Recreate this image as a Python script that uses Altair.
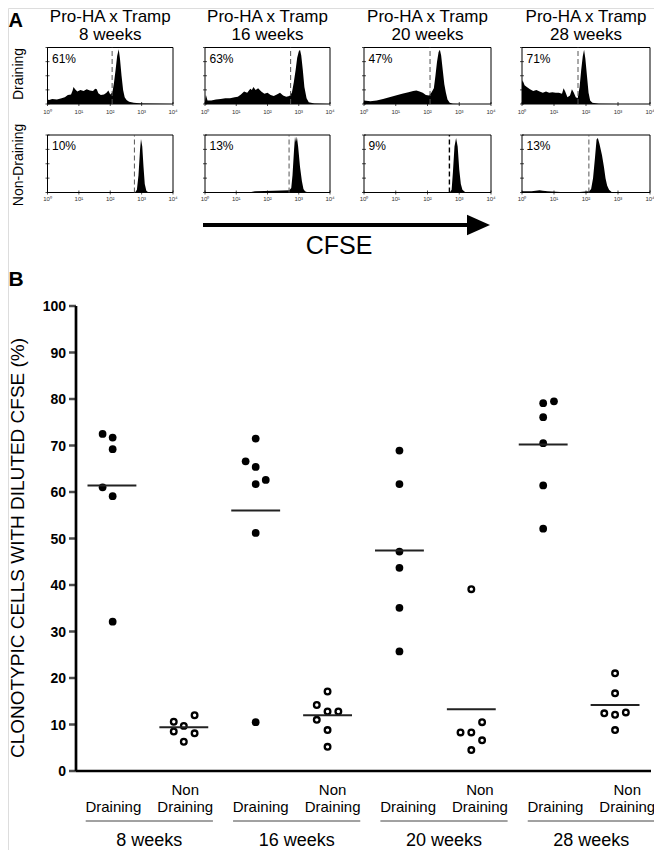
import altair as alt
import pandas as pd

FONT = "Liberation Sans"

# ---------------- data: panel A (CFSE histograms, x in log10 decades) ----------------
weeks = ["8 weeks", "16 weeks", "20 weeks", "28 weeks"]
row_names = ["Draining", "Non-Draining"]
header_line1 = "Pro-HA x Tramp"
decade_labels = ["10⁰", "10¹", "10²", "10³", "10⁴"]
decades = [0, 1, 2, 3, 4]

d8_x = [0.0, 0.05, 0.15, 0.3, 0.45, 0.55, 0.65, 0.75, 0.8, 0.83, 0.88, 0.95, 1.05, 1.15, 1.25, 1.35, 1.45, 1.52, 1.57, 1.62, 1.7, 1.8, 1.88, 1.94, 2.0, 2.07, 2.12, 2.17, 2.22, 2.27, 2.31, 2.36, 2.41, 2.46, 2.52, 2.6, 2.75, 3.0, 3.5, 4.0]
d8_y = [0.08, 0.07, 0.09, 0.08, 0.1, 0.12, 0.16, 0.17, 0.24, 0.3, 0.26, 0.22, 0.25, 0.23, 0.26, 0.24, 0.23, 0.27, 0.26, 0.19, 0.16, 0.17, 0.2, 0.24, 0.17, 0.21, 0.38, 0.6, 0.85, 0.97, 0.8, 0.5, 0.25, 0.12, 0.07, 0.04, 0.02, 0.01, 0.005, 0.0]
d16_x = [0.0, 0.03, 0.08, 0.2, 0.35, 0.5, 0.65, 0.8, 0.95, 1.05, 1.15, 1.25, 1.35, 1.45, 1.5, 1.55, 1.62, 1.7, 1.8, 1.9, 2.0, 2.1, 2.2, 2.3, 2.4, 2.5, 2.6, 2.7, 2.78, 2.84, 2.9, 2.95, 3.0, 3.04, 3.08, 3.13, 3.18, 3.25, 3.32, 3.5, 4.0]
d16_y = [0.05, 0.16, 0.06, 0.06, 0.08, 0.09, 0.1, 0.1, 0.12, 0.13, 0.17, 0.22, 0.2, 0.27, 0.25, 0.3, 0.25, 0.28, 0.22, 0.18, 0.2, 0.16, 0.14, 0.17, 0.2, 0.15, 0.13, 0.14, 0.2, 0.38, 0.6, 0.82, 0.93, 0.96, 0.86, 0.6, 0.3, 0.1, 0.03, 0.01, 0.0]
d20_x = [0.0, 0.2, 0.4, 0.6, 0.8, 1.0, 1.2, 1.4, 1.55, 1.65, 1.75, 1.85, 1.95, 2.05, 2.12, 2.2, 2.25, 2.3, 2.35, 2.39, 2.43, 2.48, 2.53, 2.58, 2.63, 2.7, 2.8, 3.0, 4.0]
d20_y = [0.06, 0.05, 0.06, 0.09, 0.12, 0.15, 0.18, 0.21, 0.23, 0.24, 0.22, 0.2, 0.16, 0.15, 0.2, 0.28, 0.5, 0.75, 0.92, 0.96, 0.86, 0.6, 0.35, 0.2, 0.08, 0.02, 0.005, 0.0, 0.0]
d28_x = [0.0, 0.02, 0.08, 0.15, 0.25, 0.35, 0.45, 0.55, 0.65, 0.75, 0.85, 0.95, 1.05, 1.15, 1.25, 1.3, 1.35, 1.42, 1.5, 1.56, 1.62, 1.68, 1.74, 1.8, 1.85, 1.9, 1.94, 1.98, 2.03, 2.08, 2.13, 2.2, 2.4, 3.0, 4.0]
d28_y = [0.38, 0.42, 0.33, 0.3, 0.26, 0.23, 0.25, 0.22, 0.2, 0.22, 0.2, 0.21, 0.2, 0.2, 0.18, 0.28, 0.22, 0.12, 0.15, 0.26, 0.2, 0.12, 0.1, 0.3, 0.6, 0.85, 0.96, 0.8, 0.5, 0.2, 0.06, 0.02, 0.005, 0.0, 0.0]
n8_x = [0.0, 2.0, 2.8, 2.85, 2.9, 2.95, 2.98, 3.02, 3.06, 3.1, 3.15, 3.22, 4.0]
n8_y = [0.0, 0.01, 0.01, 0.05, 0.3, 0.75, 0.93, 0.8, 0.45, 0.15, 0.03, 0.0, 0.0]
n16_x = [0.0, 1.4, 1.6, 2.2, 2.7, 2.76, 2.8, 2.85, 2.88, 2.91, 2.94, 2.98, 3.04, 3.1, 3.15, 3.2, 3.3, 4.0]
n16_y = [0.0, 0.0, 0.02, 0.03, 0.04, 0.08, 0.3, 0.75, 0.97, 0.88, 0.97, 0.8, 0.45, 0.2, 0.06, 0.02, 0.0, 0.0]
n20_x = [0.0, 2.7, 2.76, 2.8, 2.85, 2.9, 2.95, 3.0, 3.05, 3.1, 3.2, 4.0]
n20_y = [0.0, 0.0, 0.05, 0.35, 0.8, 0.95, 0.8, 0.4, 0.15, 0.05, 0.0, 0.0]
n28_x = [0.0, 0.3, 0.55, 0.65, 0.8, 1.2, 1.8, 2.1, 2.16, 2.22, 2.28, 2.33, 2.37, 2.42, 2.5, 2.56, 2.61, 2.66, 2.72, 2.8, 3.0, 4.0]
n28_y = [0.02, 0.02, 0.04, 0.03, 0.02, 0.01, 0.01, 0.02, 0.06, 0.25, 0.6, 0.92, 0.95, 0.85, 0.65, 0.45, 0.25, 0.12, 0.05, 0.01, 0.0, 0.0]

gates_draining = [2.06, 2.74, 2.08, 1.75]
gates_nondraining = [2.77, 2.69, 2.69, 2.09]
pct_draining = ["61%", "63%", "47%", "71%"]
pct_nondraining = ["10%", "13%", "9%", "13%"]

# ---------------- data: panel B (% clonotypic cells with diluted CFSE) ----------------
group_kind = ["Draining", "Non Draining"] * 4
vals_d8 = [72.5, 71.7, 69.2, 61.0, 59.1, 32.1]
offs_d8 = [-0.13, 0.01, 0.01, -0.13, 0.01, 0.01]
vals_n8 = [12.0, 10.6, 9.7, 8.5, 8.1, 6.3]
offs_n8 = [0.15, -0.14, 0.0, -0.14, 0.15, 0.0]
vals_d16 = [71.5, 66.6, 65.4, 62.6, 61.7, 51.2, 10.5]
offs_d16 = [0.0, -0.14, 0.0, 0.14, 0.0, 0.0, 0.0]
vals_n16 = [17.1, 14.2, 12.8, 12.8, 11.0, 8.8, 5.2]
offs_n16 = [0.0, -0.15, 0.0, 0.15, -0.15, 0.0, 0.0]
vals_d20 = [68.9, 61.7, 47.2, 43.7, 35.1, 25.7]
offs_d20 = [0.0, 0.0, 0.0, 0.0, 0.0, 0.0]
vals_n20 = [39.1, 10.5, 8.3, 8.3, 6.6, 4.5]
offs_n20 = [0.0, 0.15, -0.15, 0.0, 0.15, 0.0]
vals_d28 = [79.5, 79.1, 76.1, 70.5, 61.4, 52.1]
offs_d28 = [0.15, 0.0, 0.0, 0.0, 0.0, 0.0]
vals_n28 = [21.0, 16.7, 12.6, 12.4, 12.1, 8.8]
offs_n28 = [0.0, 0.0, 0.15, -0.15, 0.0, 0.0]
group_means = [61.4, 9.4, 56.0, 12.0, 47.4, 13.3, 70.2, 14.2]
label_drift = [0.02, 0.07, 0.12, 0.17]
y_ticks = list(range(0, 101, 10))
y_title = "CLONOTYPIC CELLS WITH DILUTED CFSE (%)"

# ---------------- layout (pixels inside the chart) ----------------
COL_X = [(39.5, 165.0), (197.0, 322.0), (356.0, 483.0), (514.0, 642.0)]
ROW_Y = [(96.0, 39.5), (184.5, 127.0)]
TICK_LABEL_Y = [104, 191]

hist_x = [[d8_x, d16_x, d20_x, d28_x], [n8_x, n16_x, n20_x, n28_x]]
hist_y = [[d8_y, d16_y, d20_y, d28_y], [n8_y, n16_y, n20_y, n28_y]]
gates = [gates_draining, gates_nondraining]
percents = [pct_draining, pct_nondraining]


def hist_panel(r, c):
    x0, x1 = COL_X[c]
    yb, yt = ROW_Y[r]
    xs = alt.Scale(domain=[0, 4], range=[x0, x1], nice=False, zero=False)
    ys = alt.Scale(domain=[0, 1], range=[yb, yt], nice=False, zero=True)

    def X(f):
        return alt.X(f, type="quantitative", scale=xs, axis=None)

    def Y(f):
        return alt.Y(f, type="quantitative", scale=ys, axis=None)

    hdf = pd.DataFrame({"decade": hist_x[r][c], "count": hist_y[r][c]})
    area = alt.Chart(hdf).mark_area(color="black", interpolate="linear").encode(
        x=X("decade"), y=Y("count"))
    fdf = pd.DataFrame({"lo": [0.0], "hi": [4.0], "mid": [2.0], "bot": [0.0], "top": [1.0],
                        "gate": [gates[r][c]], "pct": [percents[r][c]],
                        "t1": [header_line1], "t2": [weeks[c]]})
    frame = alt.Chart(fdf).mark_rect(fillOpacity=0, stroke="black", strokeWidth=1).encode(
        x=X("lo"), x2="hi", y=Y("bot"), y2="top")
    dark = (r == 1 and c == 2)
    gate = alt.Chart(fdf).mark_rule(
        color="black" if dark else "#555", strokeWidth=1.4 if dark else 1,
        strokeDash=[5, 3]).encode(x=X("gate"), y=Y("bot"), y2="top")
    pct = alt.Chart(fdf).mark_text(align="left", baseline="alphabetic", fontSize=12,
                                   font=FONT, color="black", dx=4.5, dy=15).encode(
        x=X("lo"), y=Y("top"), text="pct:N")
    tdf = pd.DataFrame({"decade": decades, "label": decade_labels, "zero": [0.0] * 5})
    bticks = alt.Chart(tdf).mark_tick(orient="vertical", size=4, thickness=1, color="black").encode(
        x=X("decade"), y=Y("zero"))
    tlabels = alt.Chart(tdf).mark_text(fontSize=6, font=FONT, color="#333",
                                       baseline="middle").encode(
        x=X("decade"), y=alt.value(TICK_LABEL_Y[r]), text="label:N")
    ldf = pd.DataFrame({"v": [0.0, 0.25, 0.5, 0.75, 1.0], "lo": [0.0] * 5})
    lticks = alt.Chart(ldf).mark_tick(orient="horizontal", size=4, thickness=1, color="black").encode(
        x=X("lo"), y=Y("v"))
    layers = [area, frame, gate, bticks, lticks, pct, tlabels]
    if r == 0:
        t1 = alt.Chart(fdf).mark_text(fontSize=17, font=FONT, color="black",
                                      baseline="alphabetic").encode(
            x=X("mid"), y=alt.value(13.5), text="t1:N")
        t2 = alt.Chart(fdf).mark_text(fontSize=17, font=FONT, color="black",
                                      baseline="alphabetic").encode(
            x=X("mid"), y=alt.value(31.5), text="t2:N")
        layers += [t1, t2]
    return alt.layer(*layers)


panels = [hist_panel(r, c) for r in range(2) for c in range(4)]

one = pd.DataFrame({"a": [0]})


def label(text, x, y, size, weight="normal", angle=0, align="center", baseline="alphabetic"):
    return alt.Chart(one).mark_text(text=text, fontSize=size, fontWeight=weight, font=FONT,
                                    color="black", angle=angle, align=align,
                                    baseline=baseline).encode(x=alt.value(x), y=alt.value(y))


decor = [
    label("A", 0.5, 18.5, 20, "bold", align="left"),
    label("B", 0.5, 278, 21, "bold", align="left"),
    label(row_names[0], 10.5, 66, 14, angle=270, baseline="middle"),
    label(row_names[1], 10.5, 157, 14, angle=270, baseline="middle"),
    label("CFSE", 331, 246, 25),
    label(y_title, 9.5, 540, 19, angle=270, baseline="middle"),
    alt.Chart(one).mark_rule(color="black", strokeWidth=4).encode(
        x=alt.value(195), x2=alt.value(472), y=alt.value(217)),
    alt.Chart(one).mark_point(shape="M-1,-0.9L1,0L-1,0.9Z", size=529, filled=True,
                              color="black", opacity=1).encode(
        x=alt.value(470.5), y=alt.value(217)),
]

# ---------------- panel B ----------------
xsB = alt.Scale(domain=[-0.5, 7.5], range=[68, 643], nice=False, zero=False)
ysB = alt.Scale(domain=[0, 100], range=[763, 298], nice=False, zero=False)


def XB(f):
    return alt.X(f, type="quantitative", scale=xsB, axis=None)


def YB(f):
    return alt.Y(f, type="quantitative", scale=ysB, axis=None)


all_vals = [vals_d8, vals_n8, vals_d16, vals_n16, vals_d20, vals_n20, vals_d28, vals_n28]
all_offs = [offs_d8, offs_n8, offs_d16, offs_n16, offs_d20, offs_n20, offs_d28, offs_n28]
prow = []
for g, (vs, os_) in enumerate(zip(all_vals, all_offs)):
    for v, o in zip(vs, os_):
        prow.append({"pos": g + o, "value": v, "kind": group_kind[g]})
pdf = pd.DataFrame(prow)

filled = alt.Chart(pdf).transform_filter(alt.datum.kind == "Draining").mark_point(
    filled=True, size=60, color="black", opacity=1).encode(x=XB("pos"), y=YB("value"))
hollow = alt.Chart(pdf).transform_filter(alt.datum.kind == "Non Draining").mark_point(
    filled=False, size=32, strokeWidth=2.3, color="black", opacity=1).encode(
    x=XB("pos"), y=YB("value"))

mdf = pd.DataFrame({"lo": [g - 0.34 for g in range(8)], "hi": [g + 0.34 for g in range(8)],
                    "mean": group_means})
means = alt.Chart(mdf).mark_rule(color="#222", strokeWidth=2).encode(
    x=XB("lo"), x2="hi", y=YB("mean"))

# axes drawn with the panel's own scales
adf = pd.DataFrame({"lo": [-0.5], "hi": [7.5], "zero": [0.0], "top": [100.0]})
xline = alt.Chart(adf).mark_rule(color="black", strokeWidth=2.7).encode(
    x=XB("lo"), x2="hi", y=YB("zero"))
yline = alt.Chart(adf).mark_rule(color="black", strokeWidth=2.7).encode(
    x=XB("lo"), y=YB("zero"), y2="top")
tick_df = pd.DataFrame({"v": y_ticks, "lo": [-0.5] * len(y_ticks),
                        "lab": [str(v) for v in y_ticks]})
yticks = alt.Chart(tick_df).mark_tick(orient="horizontal", size=7, thickness=2.5,
                                      color="black", xOffset=-3.5).encode(
    x=XB("lo"), y=YB("v"))
ylabels = alt.Chart(tick_df).mark_text(align="right", baseline="middle", fontSize=14,
                                       fontWeight="bold", font=FONT, color="black",
                                       dx=-10, dy=1).encode(
    x=XB("lo"), y=YB("v"), text="lab:N")

cdf = pd.DataFrame({"pos": [g + label_drift[g // 2] for g in range(8)],
                    "top": ["" if k == "Draining" else "Non" for k in group_kind],
                    "bottom": ["Draining"] * 8})
cat_top = alt.Chart(cdf).mark_text(fontSize=15, font=FONT, color="black",
                                   baseline="alphabetic").encode(
    x=XB("pos"), y=alt.value(787), text="top:N")
cat_bot = alt.Chart(cdf).mark_text(fontSize=15, font=FONT, color="black",
                                   baseline="alphabetic").encode(
    x=XB("pos"), y=alt.value(804), text="bottom:N")

wdf = pd.DataFrame({"center": [2 * w + 0.5 + label_drift[w] for w in range(4)], "week": weeks})
wdf["lo"] = wdf["center"] - 0.885
wdf["hi"] = wdf["center"] + 0.885
underline = alt.Chart(wdf).mark_rule(color="#444", strokeWidth=1).encode(
    x=XB("lo"), x2="hi", y=alt.value(813))
week_txt = alt.Chart(wdf).mark_text(fontSize=18, font=FONT, color="black",
                                    baseline="alphabetic").encode(
    x=XB("center"), y=alt.value(838), text="week:N")

panelB = alt.layer(filled, hollow, means, xline, yline, yticks, ylabels,
                   cat_top, cat_bot, underline, week_txt)

chart = alt.layer(*panels, *decor, panelB).resolve_scale(
    x="independent", y="independent"
).properties(
    width=646, height=842, padding=0,
    autosize=alt.AutoSizeParams(type="none"),
).configure_view(strokeWidth=0).configure(font=FONT)

chart.save("out.html", embed_options={"renderer": "svg", "actions": False})
